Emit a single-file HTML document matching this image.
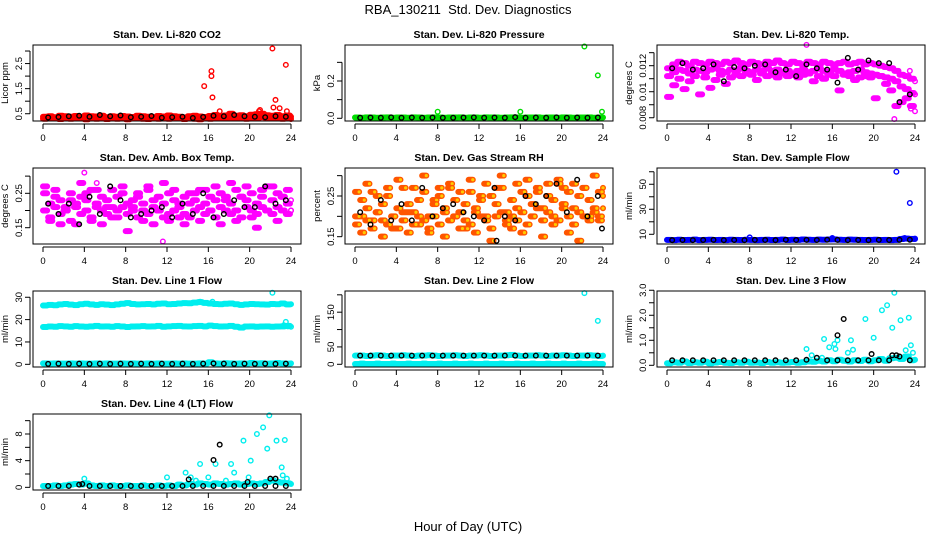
<!DOCTYPE html>
<html><head><meta charset="utf-8"><style>
html,body{margin:0;padding:0;background:#fff;}
svg{display:block;font-family:"Liberation Sans",sans-serif;}
</style></head><body>
<svg id="chart" width="936" height="540" viewBox="0 0 936 540" xmlns="http://www.w3.org/2000/svg">
<rect width="936" height="540" fill="#fff"/>
<text x="468" y="14" text-anchor="middle" font-size="13">RBA_130211&#160; Std. Dev. Diagnostics</text>
<text x="468" y="531" text-anchor="middle" font-size="13">Hour of Day (UTC)</text>
</svg>
<script>
// x ticks shared
const xTicks = [0,4,8,12,16,20,24];

// Panel 1: CO2
const co2Red1 = [0.38,0.4,0.36,0.42,0.4,0.38,0.41,0.37,0.43,0.4,0.39,0.42,0.36,0.4,0.38,0.41,0.39,0.37,0.42,0.4,0.38,0.36,0.41,0.39,0.43,0.4,0.38,0.35,0.4,0.42,0.39,0.37,0.41,0.45,0.4,0.43,0.5,0.42,0.44,0.4,0.46,0.48,0.5,0.44,0.42,0.45,0.4,0.43,0.38];
const co2Red2 = [0.3,0.33,0.31,0.29,0.32,0.3,0.34,0.31,0.28,0.32,0.3,0.33,0.29,0.31,0.3,0.32,0.28,0.31,0.33,0.3,0.29,0.32,0.3,0.31,0.3,0.33,0.31,0.29,0.32,0.3,0.28,0.31,0.3,0.32,0.34,0.31,0.35,0.32,0.33,0.3,0.34,0.32,0.36,0.33,0.31,0.34,0.3,0.32,0.29];
const co2Black = [0.35,0.37,0.4,0.42,0.38,0.45,0.4,0.43,0.36,0.38,0.41,0.34,0.36,0.38,0.33,0.37,0.42,0.4,0.45,0.4,0.38,0.36,0.4,0.38];
const co2OutX = [15.6,16.3,16.3,16.4,17.1,20.9,21,22.2,22.3,22.5,22.9,23.5,23.6];
const co2OutY = [1.6,2.2,2.0,1.15,0.6,0.6,0.65,3.1,0.75,1.05,0.72,2.45,0.6];
const co2Ticks = [0.5,1.0,1.5,2.0,2.5,3.0];
const co2Labels = ["0.5","","1.5","","2.5",""];

// Panel 2: Pressure
const presGreen = [0.004,0.003,0.005,0.004,0.003,0.004,0.005,0.003,0.004,0.004,0.003,0.005,0.004,0.003,0.004,0.005,0.004,0.003,0.004,0.004,0.005,0.003,0.004,0.004,0.003,0.005,0.004,0.004,0.003,0.004,0.005,0.004,0.003,0.004,0.004,0.005,0.003,0.004,0.004,0.003,0.005,0.004,0.003,0.004,0.004,0.005,0.003,0.004,0.004];
const presBlack = [0.003,0.004,0.003,0.005,0.003,0.004,0.003,0.004,0.003,0.003,0.004,0.005,0.003,0.004,0.003,0.006,0.003,0.004,0.003,0.005,0.003,0.004,0.003,0.004];
const presOutX = [8,16,22.2,23.5,23.9];
const presOutY = [0.035,0.035,0.385,0.23,0.035];
const presTicks = [0,0.1,0.2,0.3];
const presLabels = ["0.0","","0.2",""];

// Panel 3: Li-820 Temp
const tempA = [0.0118,0.0121,0.0123,0.0122,0.012,0.0123,0.0122,0.0121,0.0123,0.0122,0.0121,0.0123,0.0122,0.0124,0.0122,0.0121,0.0123,0.0122,0.0121,0.0123,0.0122,0.0124,0.0122,0.0121,0.0123,0.0122,0.0121,0.0123,0.0122,0.0121,0.0123,0.0122,0.0121,0.0122,0.0123,0.0121,0.0122,0.0123,0.0121,0.0122,0.0121,0.012,0.0119,0.0118,0.0116,0.0113,0.0112,0.011,0.0108];
const tempB = [0.0112,0.0115,0.0117,0.0116,0.0114,0.0117,0.0116,0.0115,0.0117,0.0118,0.0116,0.0115,0.0117,0.0116,0.0118,0.0116,0.0115,0.0117,0.0116,0.0118,0.0116,0.0117,0.0115,0.0116,0.0114,0.0116,0.0117,0.0115,0.0116,0.0118,0.0116,0.0115,0.0117,0.0116,0.0114,0.0115,0.0116,0.0117,0.0115,0.0114,0.0113,0.0112,0.0111,0.011,0.0108,0.0104,0.0102,0.0099,0.0098];
const tempC = [0.0096,0.0105,0.011,0.0102,0.0108,0.0112,0.0098,0.0111,0.0103,0.0109,0.0113,0.0106,0.0111,0.0113,0.0112,0.0114,0.0113,0.0109,0.0114,0.0112,0.0113,0.0111,0.0114,0.0112,0.0113,0.0111,0.0113,0.0114,0.0108,0.0112,0.011,0.0113,0.0112,0.0101,0.0113,0.0112,0.0109,0.0111,0.0112,0.0111,0.0095,0.0112,0.0106,0.0101,0.0089,0.0092,0.0095,0.0089,0.0085];
const tempBlack = [0.0118,0.0122,0.0117,0.0118,0.0121,0.0108,0.0119,0.0118,0.012,0.0121,0.0115,0.0117,0.0112,0.0121,0.0118,0.0117,0.0107,0.0126,0.0117,0.0124,0.0122,0.0122,0.0092,0.0098];
const tempOutX = [13.5,22,23.6,23.5];
const tempOutY = [0.0136,0.0079,0.0087,0.0116];
const tempTicks = [0.008,0.009,0.010,0.011,0.012,0.013];
const tempLabels = ["0.008","","0.01","","0.012",""];

// Panel 4: Amb Box Temp
const ambA = [0.25,0.22,0.24,0.23,0.21,0.25,0.22,0.24,0.23,0.26,0.22,0.24,0.23,0.21,0.24,0.25,0.22,0.23,0.24,0.22,0.26,0.23,0.24,0.22,0.25,0.23,0.22,0.24,0.25,0.23,0.26,0.22,0.24,0.23,0.25,0.24,0.22,0.26,0.24,0.23,0.25,0.22,0.24,0.27,0.23,0.25,0.24,0.22,0.23];
const ambB = [0.2,0.18,0.21,0.19,0.2,0.17,0.21,0.19,0.2,0.18,0.21,0.2,0.19,0.18,0.2,0.21,0.19,0.2,0.18,0.2,0.19,0.21,0.2,0.18,0.19,0.2,0.21,0.19,0.18,0.2,0.21,0.19,0.2,0.18,0.21,0.2,0.19,0.2,0.18,0.21,0.2,0.19,0.21,0.2,0.19,0.21,0.2,0.19,0.2];
const ambC = [0.27,0.17,0.26,0.16,0.2,0.23,0.16,0.28,0.25,0.17,0.26,0.16,0.21,0.26,0.18,0.27,0.14,0.21,0.25,0.17,0.27,0.16,0.2,0.28,0.17,0.26,0.18,0.16,0.22,0.25,0.17,0.26,0.2,0.27,0.16,0.23,0.28,0.17,0.24,0.27,0.18,0.15,0.26,0.2,0.27,0.17,0.24,0.26,0.2];
const ambBlack = [0.22,0.19,0.22,0.16,0.24,0.19,0.27,0.23,0.18,0.19,0.2,0.21,0.18,0.22,0.19,0.25,0.18,0.19,0.23,0.21,0.21,0.27,0.22,0.23];
const ambOutX = [4,11.6,5.2];
const ambOutY = [0.31,0.11,0.28];
const ambTicks = [0.15,0.2,0.25,0.3];
const ambLabels = ["0.15","","0.25",""];

// Panel 5: Gas Stream RH
const rhA = [0.2,0.24,0.22,0.26,0.21,0.23,0.25,0.2,0.22,0.27,0.23,0.21,0.24,0.26,0.2,0.23,0.25,0.22,0.27,0.24,0.21,0.23,0.26,0.22,0.24,0.2,0.25,0.23,0.27,0.21,0.24,0.22,0.26,0.25,0.23,0.27,0.22,0.25,0.24,0.28,0.23,0.26,0.22,0.25,0.27,0.24,0.22,0.26,0.25];
const rhB = [0.18,0.2,0.19,0.17,0.21,0.19,0.18,0.2,0.17,0.19,0.21,0.18,0.2,0.19,0.17,0.2,0.18,0.21,0.19,0.2,0.17,0.19,0.18,0.21,0.2,0.19,0.17,0.2,0.21,0.18,0.2,0.19,0.21,0.18,0.2,0.22,0.19,0.21,0.2,0.19,0.22,0.2,0.18,0.21,0.2,0.19,0.21,0.2,0.22];
const rhC = [0.26,0.16,0.28,0.19,0.25,0.15,0.27,0.17,0.29,0.21,0.16,0.27,0.18,0.3,0.16,0.24,0.27,0.15,0.28,0.2,0.26,0.17,0.29,0.16,0.25,0.28,0.14,0.27,0.3,0.19,0.17,0.28,0.16,0.29,0.2,0.26,0.15,0.28,0.18,0.29,0.27,0.16,0.28,0.14,0.27,0.2,0.3,0.19,0.27];
const rhBlack = [0.21,0.18,0.24,0.19,0.23,0.19,0.27,0.2,0.22,0.23,0.21,0.2,0.19,0.27,0.2,0.19,0.25,0.23,0.25,0.28,0.21,0.29,0.2,0.25];
const rhOutX = [23.9,13.7];
const rhOutY = [0.17,0.14];
const rhTicks = [0.15,0.2,0.25,0.3];
const rhLabels = ["0.15","","0.25",""];

// Panel 6: Sample Flow
const sfBlue = [5.5,5.3,5.6,5.4,5.5,5.7,5.3,5.5,5.6,5.4,5.5,5.3,5.6,5.5,5.4,5.6,5.5,5.3,5.5,5.6,5.4,5.5,5.7,5.4,5.6,5.5,5.8,5.6,5.5,5.7,5.6,5.8,5.9,5.6,5.5,5.7,5.6,5.5,5.4,5.5,5.6,5.4,5.5,5.3,5.5,6.2,6.5,6.3,6.2];
const sfBlack = [5.3,5.4,5.3,5.4,5.5,5.3,5.4,5.3,5.5,5.4,5.3,5.6,5.4,5.5,5.4,5.6,5.5,5.3,5.4,5.3,5.5,5.4,5.5,5.6];
const sfOutX = [8,16,22.2,23.5,22.8,23,24];
const sfOutY = [7.5,7,60,35,6.5,7,6.5];
const sfTicks = [10,20,30,40,50,60];
const sfLabels = ["10","","30","","50",""];

// Panel 7: Line 1 Flow
const l1A = [26.3,26.6,26.4,26.8,27.0,26.7,26.5,26.9,27.1,26.8,26.6,26.9,26.7,26.5,26.8,27.1,27.4,27.0,26.8,26.9,27.0,26.8,27.1,27.2,26.9,27.0,27.2,27.4,27.3,27.6,27.8,27.5,27.2,27.0,26.9,27.1,27.2,26.9,26.6,26.8,27.0,26.9,26.8,26.7,27.0,26.9,27.2,26.8,26.9];
const l1B = [16.7,16.9,16.8,17.1,17.0,16.8,17.1,16.9,16.8,17.0,17.2,16.9,17.0,16.8,17.1,16.9,16.7,16.9,17.0,17.1,16.9,17.0,17.2,16.8,17.0,17.1,17.2,17.0,16.9,17.1,17.2,17.0,17.3,17.1,16.9,17.0,17.2,16.8,16.4,16.9,17.0,16.8,16.9,17.0,16.8,16.9,17.0,17.2,16.8];
const l1C = [0.4,0.3,0.4,0.3,0.3,0.4,0.3,0.4,0.3,0.3,0.4,0.3,0.4,0.3,0.3,0.4,0.3,0.4,0.3,0.3,0.4,0.3,0.4,0.3,0.3,0.4,0.3,0.4,0.3,0.3,0.4,0.3,0.9,0.4,0.3,0.5,0.4,0.3,0.4,0.3,0.6,0.4,0.5,0.3,0.4,0.6,0.4,0.3,0.4];
const l1Black = [0.2,0.3,0.2,0.3,0.2,0.3,0.2,0.3,0.2,0.3,0.2,0.3,0.2,0.3,0.2,0.3,0.4,0.3,0.2,0.3,0.2,0.3,0.2,0.3];
const l1OutX = [22.2,23.3,23.5,23.7,15.2,16.4];
const l1OutY = [32,17.5,19,17,28,28];
const l1Ticks = [0,10,20,30];
const l1Labels = ["0","10","20","30"];

// Panel 8: Line 2 Flow
const l2A = [25,25,24,25,26,25,24,25,25,26,25,24,25,25,26,25,24,25,25,26,25,24,25,25,26,25,24,25,25,26,27,25,24,25,25,26,25,24,25,25,26,25,24,25,25,26,25,24,25];
const l2B = [1,2,1,1,2,1,1,2,1,1,2,1,1,2,1,1,2,1,1,2,1,1,2,1,1,2,1,1,2,1,1,2,1,1,2,1,1,2,1,1,2,1,1,2,1,1,2,1,1];
const l2Black = [25,25,25,25,25,25,25,25,25,25,25,25,25,25,25,25,25,25,25,25,25,25,25,25];
const l2OutX = [22.2,23.5];
const l2OutY = [205,125];
const l2Ticks = [0,50,100,150,200];
const l2Labels = ["0","50","","150",""];

// Panel 9: Line 3 Flow
const l3A = [0.08,0.12,0.1,0.15,0.09,0.12,0.1,0.14,0.08,0.11,0.13,0.1,0.09,0.12,0.1,0.14,0.1,0.11,0.09,0.13,0.1,0.12,0.1,0.11,0.13,0.1,0.12,0.15,0.14,0.18,0.15,0.2,0.16,0.22,0.18,0.15,0.2,0.17,0.22,0.16,0.2,0.25,0.18,0.28,0.3,0.25,0.35,0.2,0.22];
const l3Black = [0.2,0.2,0.2,0.2,0.2,0.2,0.2,0.2,0.2,0.2,0.2,0.2,0.2,0.22,0.3,0.2,0.2,0.2,0.2,0.2,0.2,0.2,0.35,0.2];
const l3OutX = [13.5,14,15.2,15.7,16.2,16.3,16.5,17.5,17.8,18,19.2,20,20.8,21.3,21.8,22,22.6,23.4,23.6,23.8,23.1,15];
const l3OutY = [0.65,0.4,1.05,0.72,0.85,0.65,1.0,0.5,1.0,0.62,1.85,1.1,2.2,2.4,1.5,2.9,1.8,1.9,0.8,0.5,0.6,0.3];
const l3BlkOutX = [16.5,17.1,19.8,21.8,22.2];
const l3BlkOutY = [1.2,1.85,0.45,0.4,0.4];
const l3Ticks = [0,0.5,1,1.5,2,2.5,3];
const l3Labels = ["0.0","","1.0","","2.0","","3.0"];

// Panel 10: Line 4 (LT) Flow
const l4A = [0.2,0.2,0.3,0.2,0.3,0.4,0.5,0.4,0.6,0.3,0.2,0.3,0.2,0.3,0.2,0.2,0.3,0.2,0.2,0.3,0.2,0.2,0.3,0.2,0.3,0.2,0.4,0.3,0.5,0.4,0.6,0.5,0.4,0.6,0.5,0.4,0.5,0.6,0.4,0.5,0.6,0.5,0.6,0.8,1.0,0.8,0.7,0.6,0.5];
const l4Black = [0.2,0.2,0.2,0.4,0.2,0.2,0.2,0.2,0.2,0.2,0.2,0.2,0.2,0.2,0.2,0.2,0.2,0.2,0.2,0.2,0.2,0.2,0.2,0.2];
const l4OutX = [4,12,13.8,14.3,14.8,15.2,16,16.7,17.7,18.2,18.5,19.4,19.9,20.1,20.7,21.3,21.7,21.9,22.6,23.1,23.4,23.6,23.2];
const l4OutY = [1.3,1.5,2.2,1.5,1.0,3.5,1.5,3.5,1.0,3.5,2.2,7,1.5,4,8,9,5.8,10.8,7,3,7.1,1.3,1.8];
const l4BlkOutX = [3.8,14.1,16.5,17.1,19.8,22,22.5];
const l4BlkOutY = [0.5,1.2,4.1,6.4,0.8,1.3,1.3];
const l4Ticks = [0,2,4,6,8,10];
const l4Labels = ["0","","4","","8",""];

const NS = "http://www.w3.org/2000/svg";
const svg = document.getElementById('chart');
function mk(tag, attrs, parent){const e=document.createElementNS(NS,tag);for(const k in attrs)e.setAttribute(k,attrs[k]);(parent||svg).appendChild(e);return e;}

function panel(o){
  const x0 = 43 + 312*o.col;
  const left = x0-10, right = x0+258;
  const top = 45 + 123*o.row, bottom = 121 + 123*o.row;
  const g = mk('g',{});
  
  
  const xs = h => x0 + h*(248/24);
  const ys = v => bottom - (v - o.yLo)/(o.yHi - o.yLo)*(bottom-top);
  const t = mk('text',{x:(left+right)/2,y:top-7,'text-anchor':'middle','font-size':'10.5','font-weight':'bold'},g);
  t.textContent = o.title;
  
  
  const yt = mk('text',{x:0,y:0,'text-anchor':'middle','font-size':'9.5',transform:`translate(${left-25},${(top+bottom)/2}) rotate(-90)`},g);
  yt.textContent = o.ylab;
  
  
  const xa = mk('g',{},g);
  
  
  mk('line',{x1:xs(0),x2:xs(24),y1:bottom+3,y2:bottom+3,stroke:'#000','stroke-width':1},xa);
  xTicks.forEach(h=>{
    mk('line',{x1:xs(h),x2:xs(h),y1:bottom+3,y2:bottom+8,stroke:'#000','stroke-width':1},xa);
    const l = mk('text',{x:xs(h),y:bottom+20,'text-anchor':'middle','font-size':'9.5'},xa);
    l.textContent = h;
    
    
  });
  const ya = mk('g',{},g);
  
  
  const tv = o.ticks.filter(v=>ys(v)>=top-2 && ys(v)<=bottom+2);
  mk('line',{x1:left-3,x2:left-3,y1:ys(tv[0]),y2:ys(tv[tv.length-1]),stroke:'#000','stroke-width':1},ya);
  o.ticks.forEach((v,i)=>{
    const y = ys(v); if(y<top-2||y>bottom+2) return;
    mk('line',{x1:left-8,x2:left-3,y1:y,y2:y,stroke:'#000','stroke-width':1},ya);
    if(o.labels[i]){
      const l = mk('text',{x:0,y:0,'text-anchor':'middle','font-size':'9.5',transform:`translate(${left-11},${y}) rotate(-90)`},ya);
      l.textContent = o.labels[i];
      
      
    }
  });
  const pts = mk('g',{},g);
  
  
  function dot(h,v,stroke,fill){
    const c = mk('circle',{cx:xs(h),cy:ys(v),r:2.3,fill:fill||'none',stroke:stroke,'stroke-width':1.4},pts);
    
    
  }
  // each colored value represents a half-hour bin of dense samples; draw it across the bin
  const sub = [0,0.1,0.2,0.3,0.4];
  o.colored.forEach(arr=>arr.forEach((v,i)=>{
    sub.forEach(s=>{ if(i*0.5+s<=24) dot(i*0.5+s,v,o.color,o.fill); });
  }));
  if(o.outX) o.outX.forEach((h,i)=>dot(h,o.outY[i],o.color,o.fill));
  o.black.forEach((v,i)=>dot(i+0.5,v,'#000'));
  if(o.bOutX) o.bOutX.forEach((h,i)=>dot(h,o.bOutY[i],'#000'));
  const box = mk('rect',{x:left,y:top,width:right-left,height:bottom-top,fill:'none',stroke:'#000','stroke-width':1},g);
  
  
}

panel({name:'panel-co2',col:0,row:0,title:'Stan. Dev. Li-820 CO2',ylab:'Licor ppm',yLo:0.21,yHi:3.24,ticks:co2Ticks,labels:co2Labels,color:'#ff0000',colored:[co2Red1,co2Red2],outX:co2OutX,outY:co2OutY,black:co2Black});
panel({name:'panel-pressure',col:1,row:0,title:'Stan. Dev. Li-820 Pressure',ylab:'kPa',yLo:-0.0145,yHi:0.393,ticks:presTicks,labels:presLabels,color:'#00dd00',colored:[presGreen],outX:presOutX,outY:presOutY,black:presBlack});
panel({name:'panel-li820-temp',col:2,row:0,title:'Stan. Dev. Li-820 Temp.',ylab:'degrees C',yLo:0.00775,yHi:0.01359,ticks:tempTicks,labels:tempLabels,color:'#ff00ff',colored:[tempC,tempB,tempA],outX:tempOutX,outY:tempOutY,black:tempBlack});
panel({name:'panel-amb-box-temp',col:0,row:1,title:'Stan. Dev. Amb. Box Temp.',ylab:'degrees C',yLo:0.1026,yHi:0.3236,ticks:ambTicks,labels:ambLabels,color:'#ff00ff',colored:[ambC,ambB,ambA],outX:ambOutX,outY:ambOutY,black:ambBlack});
panel({name:'panel-gas-rh',col:1,row:1,title:'Stan. Dev. Gas Stream RH',ylab:'percent',yLo:0.132,yHi:0.3188,ticks:rhTicks,labels:rhLabels,color:'#ff5500',fill:'#ffcc00',colored:[rhC,rhB,rhA],black:rhBlack,bOutX:rhOutX,bOutY:rhOutY});
panel({name:'panel-sample-flow',col:2,row:1,title:'Stan. Dev. Sample Flow',ylab:'ml/min',yLo:2.24,yHi:63,ticks:sfTicks,labels:sfLabels,color:'#0000ff',colored:[sfBlue],outX:sfOutX,outY:sfOutY,black:sfBlack});
panel({name:'panel-line1-flow',col:0,row:2,title:'Stan. Dev. Line 1 Flow',ylab:'ml/min',yLo:-1.2,yHi:32.8,ticks:l1Ticks,labels:l1Labels,color:'#00eeee',colored:[l1A,l1B,l1C],outX:l1OutX,outY:l1OutY,black:l1Black});
panel({name:'panel-line2-flow',col:1,row:2,title:'Stan. Dev. Line 2 Flow',ylab:'ml/min',yLo:-7.8,yHi:211,ticks:l2Ticks,labels:l2Labels,color:'#00eeee',colored:[l2A,l2B],outX:l2OutX,outY:l2OutY,black:l2Black});
panel({name:'panel-line3-flow',col:2,row:2,title:'Stan. Dev. Line 3 Flow',ylab:'ml/min',yLo:-0.068,yHi:2.97,ticks:l3Ticks,labels:l3Labels,color:'#00eeee',colored:[l3A],outX:l3OutX,outY:l3OutY,black:l3Black,bOutX:l3BlkOutX,bOutY:l3BlkOutY});
panel({name:'panel-line4-flow',col:0,row:3,title:'Stan. Dev. Line 4 (LT) Flow',ylab:'ml/min',yLo:-0.4,yHi:11.0,ticks:l4Ticks,labels:l4Labels,color:'#00eeee',colored:[l4A],outX:l4OutX,outY:l4OutY,black:l4Black,bOutX:l4BlkOutX,bOutY:l4BlkOutY});
</script>
</body></html>
